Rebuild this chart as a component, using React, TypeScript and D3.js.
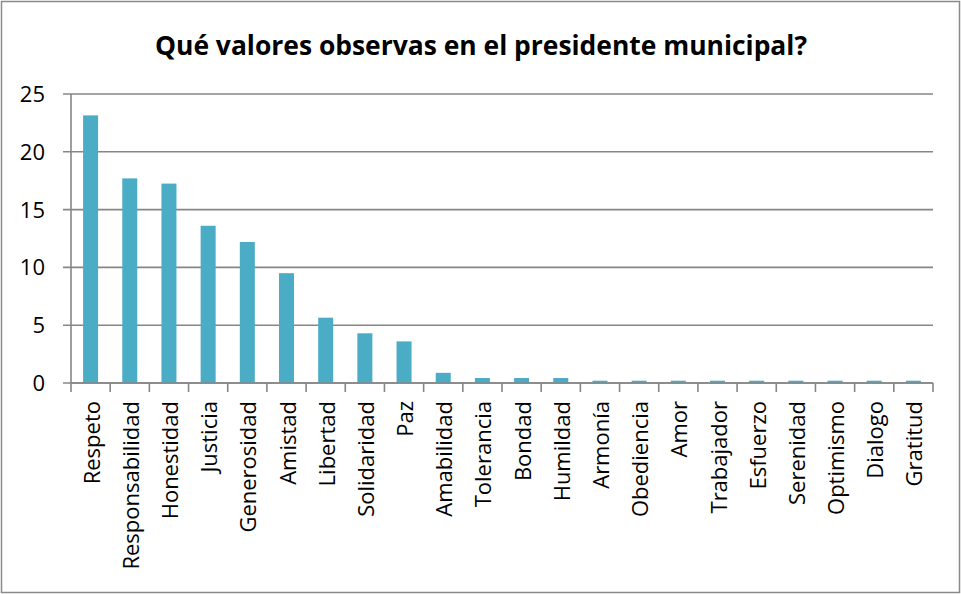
import React from "react";
import * as d3 from "d3";

const TITLE = "Qué valores observas en el presidente municipal?";
const categories = [
  "Respeto", "Responsabilidad", "Honestidad", "Justicia", "Generosidad", "Amistad",
  "Libertad", "Solidaridad", "Paz", "Amabilidad", "Tolerancia", "Bondad", "Humildad",
  "Armonía", "Obediencia", "Amor", "Trabajador", "Esfuerzo", "Serenidad", "Optimismo",
  "Dialogo", "Gratitud",
];
const values = [
  23.15, 17.7, 17.25, 13.6, 12.2, 9.5, 5.65, 4.3, 3.6, 0.88, 0.43, 0.43, 0.43,
  0.2, 0.2, 0.2, 0.2, 0.2, 0.2, 0.2, 0.2, 0.2,
];
const yTicks = [0, 5, 10, 15, 20, 25];

const W = 961;
const H = 594;
const LEFT = 71;
const RIGHT = 933;
const TOP = 94;
const BOTTOM = 383;
const BAR = "#4BACC6";
const GRID = "#868686";
const FONT = "'Open Sans', 'Noto Sans', sans-serif";

export default function App() {
  const x = d3.scaleBand<string>().domain(categories).range([LEFT, RIGHT]).padding(0);
  const xb = d3
    .scaleBand<string>()
    .domain(categories)
    .range([LEFT, RIGHT])
    .paddingInner(0.617)
    .paddingOuter(0.3085);
  const y = d3.scaleLinear().domain([0, 25]).range([BOTTOM, TOP]);

  const boundaries = categories.map((c) => x(c) as number).concat([RIGHT]);

  return (
    <div style={{ position: "absolute", left: 0, top: 0 }}>
      <svg width={W} height={H} style={{ display: "block" }}>
        <rect x={0} y={0} width={W} height={H} fill="#fff" />
        <rect x={1.5} y={1.5} width={W - 3} height={H - 3} fill="none" stroke="#8a8a8a" strokeWidth={1.5} />
        <text
          x={481}
          y={55}
          textAnchor="middle"
          fontFamily={FONT}
          fontWeight="bold"
          fontSize={26}
          textLength={652}
          lengthAdjust="spacingAndGlyphs"
          fill="#000"
        >
          {TITLE}
        </text>
        {yTicks.map((t) => (
          <g key={t}>
            <line x1={LEFT - 8} x2={RIGHT} y1={y(t)} y2={y(t)} stroke={GRID} strokeWidth={1.6} />
            <text
              x={45}
              y={y(t)}
              dy="0.36em"
              textAnchor="end"
              fontFamily={FONT}
              fontSize={22}
              fill="#000"
            >
              {t}
            </text>
          </g>
        ))}
        <line x1={LEFT} x2={LEFT} y1={TOP} y2={BOTTOM} stroke={GRID} strokeWidth={1.6} />
        {categories.map((c, i) => (
          <rect
            key={c}
            x={xb(c) as number}
            y={y(values[i])}
            width={xb.bandwidth()}
            height={BOTTOM - y(values[i])}
            fill={BAR}
          />
        ))}
        <line x1={LEFT} x2={RIGHT} y1={BOTTOM} y2={BOTTOM} stroke={GRID} strokeWidth={1.6} />
        {boundaries.map((bx, i) => (
          <line key={i} x1={bx} x2={bx} y1={BOTTOM} y2={BOTTOM + 9} stroke={GRID} strokeWidth={1.6} />
        ))}
        {categories.map((c) => {
          const cx = (x(c) as number) + x.bandwidth() / 2;
          return (
            <text
              key={c}
              transform={`translate(${cx + 9},${401}) rotate(-90)`}
              textAnchor="end"
              fontFamily={FONT}
              fontSize={22}
              fill="#000"
            >
              {c}
            </text>
          );
        })}
      </svg>
    </div>
  );
}
